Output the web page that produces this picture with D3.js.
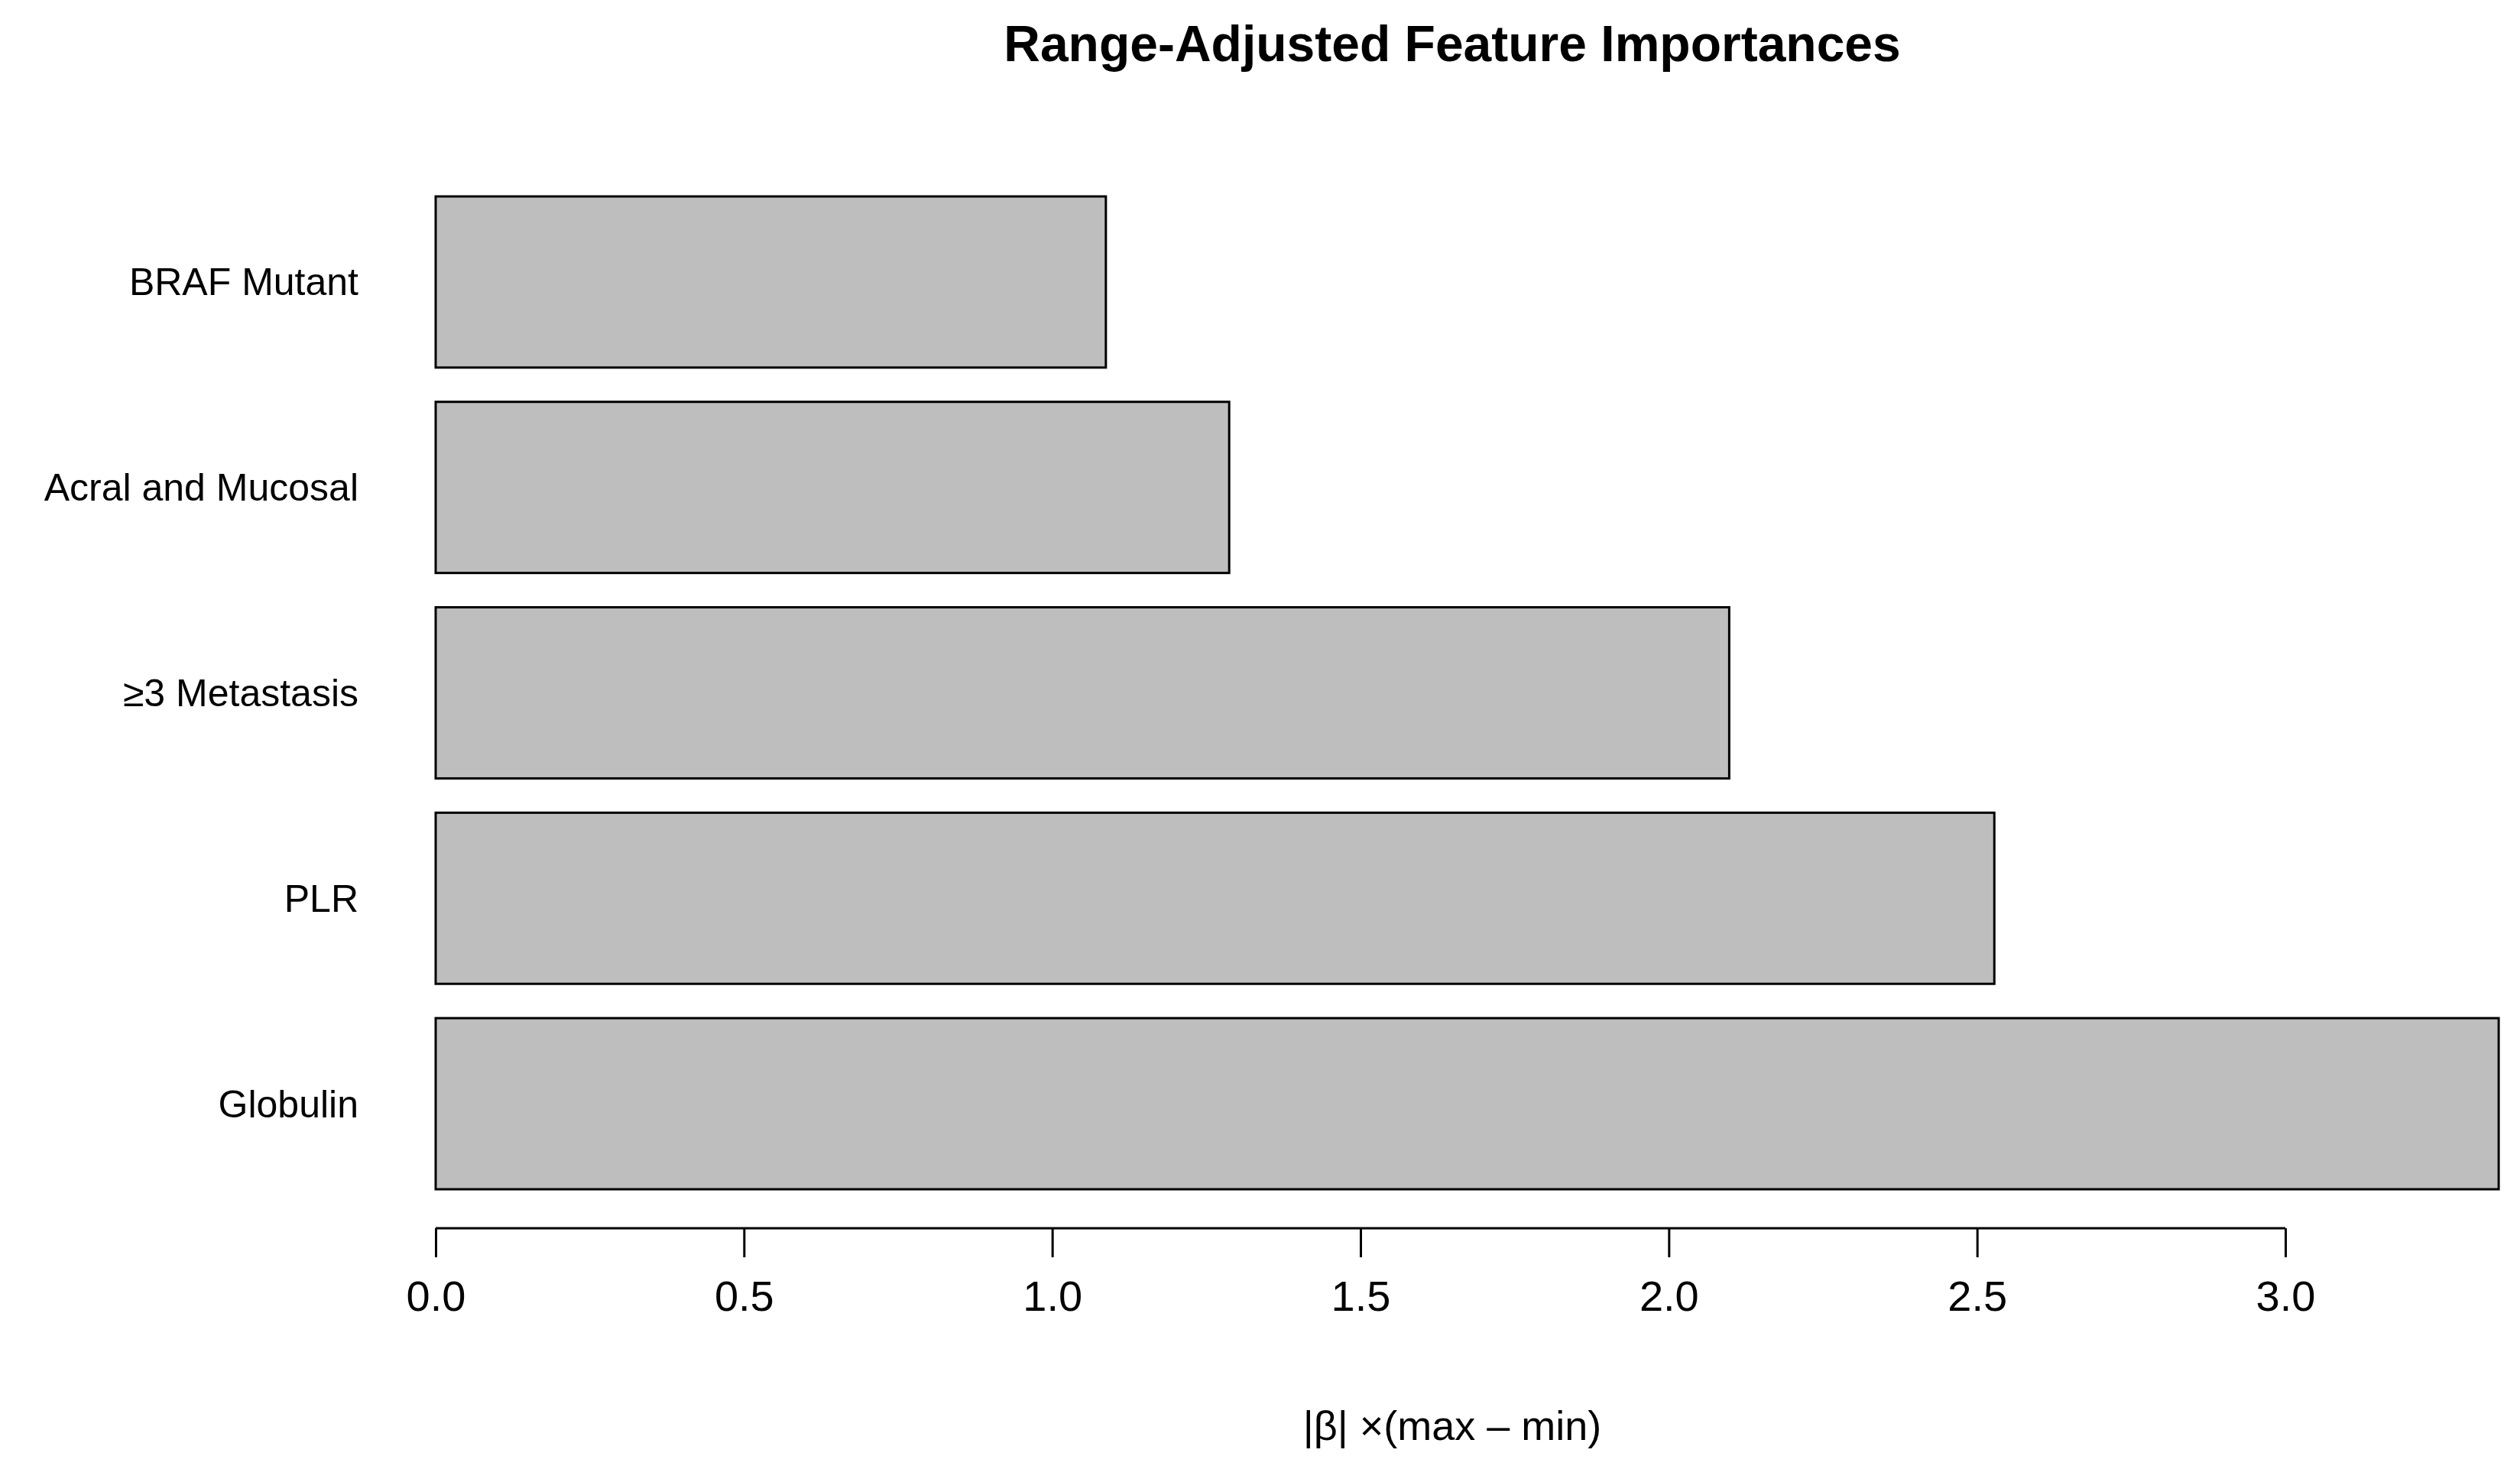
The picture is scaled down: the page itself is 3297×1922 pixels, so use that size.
<!DOCTYPE html>
<html><head><meta charset="utf-8">
<script src="https://d3js.org/d3.v7.min.js"></script>
<style>body{margin:0;background:#fff}</style>
</head><body>
<script>
const categories = ["BRAF Mutant","Acral and Mucosal","≥3 Metastasis","PLR","Globulin"];
const values = [1.087, 1.287, 2.098, 2.528, 3.346];
const ticks = [0,0.5,1,1.5,2,2.5,3];
const title = "Range-Adjusted Feature Importances";
const xTitle = "|β| ×(max – min)";

const W=3297,H=1922;
const svg=d3.select("body").append("svg").attr("width",W).attr("height",H)
  .style("font-family","'Liberation Sans',Arial,sans-serif");
const x=d3.scaleLinear().domain([0,3]).range([570,2990]);
const y=d3.scaleBand().domain(categories).range([257,1556]).paddingInner(0.167).paddingOuter(0);

svg.selectAll("rect.bar").data(categories).join("rect")
  .attr("x",x(0)).attr("y",d=>y(d))
  .attr("width",(d,i)=>x(values[i])-x(0)).attr("height",y.bandwidth())
  .attr("fill","#bebebe").attr("stroke","#000").attr("stroke-width",3);

svg.selectAll("text.cat").data(categories).join("text")
  .attr("x",469).attr("y",d=>y(d)+y.bandwidth()/2).attr("dy","0.35em")
  .attr("text-anchor","end").attr("font-size",50).text(d=>d);

const ax=svg.append("g").attr("transform","translate(0,1607)")
  .call(d3.axisBottom(x).tickValues(ticks).tickSize(38).tickPadding(30).tickFormat(d3.format(".1f")));
ax.select(".domain").attr("stroke-width",3).attr("d",`M${x(0)},0H${x(3)}`);
ax.selectAll(".tick line").attr("stroke-width",3);
ax.selectAll(".tick text").attr("font-size",56).attr("fill","#000").style("font-family","'Liberation Sans',Arial,sans-serif");

svg.append("text").attr("x",1900).attr("y",80).attr("text-anchor","middle")
  .attr("font-size",66).attr("font-weight","bold").text(title);
svg.append("text").attr("x",1900).attr("y",1884).attr("text-anchor","middle")
  .attr("font-size",54).text(xTitle);
</script>
</body></html>
